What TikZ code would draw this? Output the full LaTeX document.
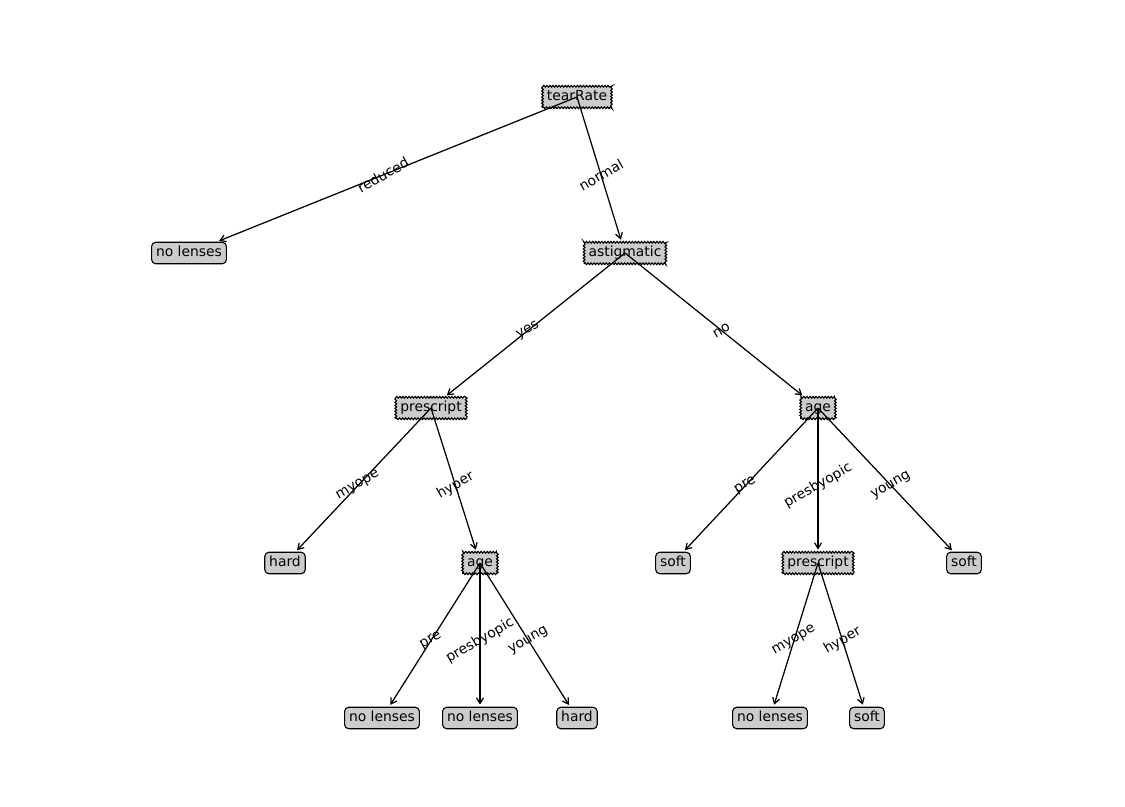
\documentclass[tikz,border=0pt]{standalone}
\usepackage{fontspec}
\setmainfont{DejaVu Sans}
\usetikzlibrary{arrows.meta,decorations.pathmorphing,calc}
\begin{document}
\begin{tikzpicture}[x=0.72pt,y=-0.72pt,
  font=\fontsize{10pt}{12pt}\selectfont,
  dec/.style={draw, fill=black!20, line width=0.8pt, decorate,
    decoration={zigzag,segment length=2.2pt,amplitude=0.6pt},
    inner xsep=3.2pt, inner ysep=3pt, text height=7.5pt, text depth=2pt},
  leaf/.style={draw, fill=black!20, line width=0.8pt, rounded corners=3pt,
    inner xsep=3.2pt, inner ysep=3pt, text height=7.5pt, text depth=2pt},
  edge/.style={line width=0.9pt, -{Straight Barb[length=4pt,width=5pt]}, shorten >=1.5pt},
  lbl/.style={rotate=30, inner sep=0pt}]
\useasboundingbox (0,0) rectangle (1125,807);
% nodes
\node[dec]  (t)  at (577,97)  {tearRate};
\node[leaf] (l1) at (189,253) {no lenses};
\node[dec]  (a)  at (625,253) {astigmatic};
\node[dec]  (p1) at (431,408) {prescript};
\node[dec]  (g2) at (818,408) {age};
\node[leaf] (h1) at (285,563) {hard};
\node[dec]  (g1) at (480,563) {age};
\node[leaf] (s1) at (673,563) {soft};
\node[dec]  (p2) at (818,563) {prescript};
\node[leaf] (s2) at (964,563) {soft};
\node[leaf] (n1) at (382,718) {no lenses};
\node[leaf] (n2) at (480,718) {no lenses};
\node[leaf] (h2) at (577,718) {hard};
\node[leaf] (n3) at (770,718) {no lenses};
\node[leaf] (s3) at (867,718) {soft};
% edges
\foreach \p/\c/\txt in {t/l1/reduced, t/a/normal, a/p1/yes, a/g2/no,
  p1/h1/myope, p1/g1/hyper, g1/n1/pre, g1/n2/presbyopic, g1/h2/young,
  g2/s1/pre, g2/p2/presbyopic, g2/s2/young, p2/n3/myope, p2/s3/hyper}{
  \draw[edge] (\p.center) -- (\c);
  \node[lbl] at ($(\p.center)!0.5!(\c.center)$) {\txt};
}
\end{tikzpicture}
\end{document}
